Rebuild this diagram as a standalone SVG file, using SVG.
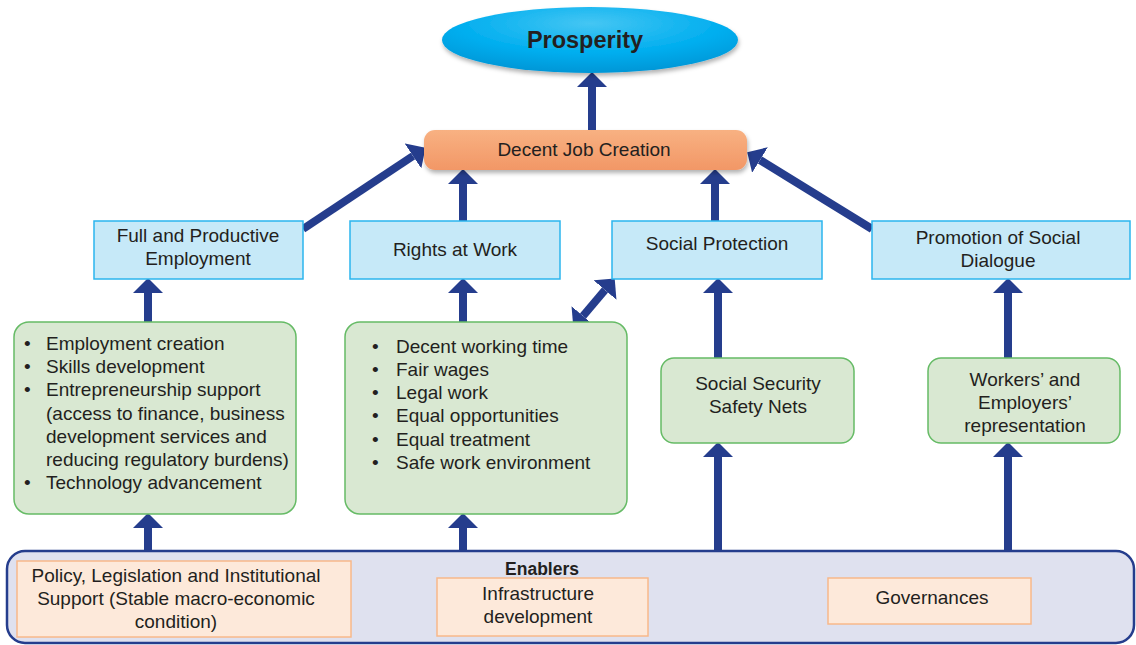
<svg xmlns="http://www.w3.org/2000/svg" width="1136" height="645" viewBox="0 0 1136 645">
  <style>
    text { font-family: "Liberation Sans", Arial, sans-serif; fill: #231f20; }
    .t { font-size: 19px; text-anchor: middle; }
    .l { font-size: 19px; }
    .goal { fill: #c6e9f8; stroke: #2bb5ee; stroke-width: 1.5; }
    .item { fill: #d9e8d2; stroke: #66bb66; stroke-width: 1.5; }
    .enab { fill: #fde9da; stroke: #f8b88a; stroke-width: 1.5; }
    .arr { stroke: #253d8d; stroke-width: 8; fill: none; }
  </style>
  <defs>
    <radialGradient id="gProsperity" cx="0.5" cy="0.25" r="0.75">
      <stop offset="0" stop-color="#45c6f3"/>
      <stop offset="0.6" stop-color="#00aeef"/>
      <stop offset="1" stop-color="#0096d6"/>
    </radialGradient>
    <linearGradient id="gDecent" x1="0" y1="0" x2="0" y2="1">
      <stop offset="0" stop-color="#f8b182"/>
      <stop offset="1" stop-color="#f29766"/>
    </linearGradient>
    <filter id="shadow" x="-10%" y="-20%" width="120%" height="150%">
      <feDropShadow dx="1" dy="3" stdDeviation="2" flood-color="#000" flood-opacity="0.3"/>
    </filter>
    <marker id="head" markerUnits="userSpaceOnUse" markerWidth="15" markerHeight="30" refX="0" refY="15" orient="auto-start-reverse" viewBox="0 0 15 30">
      <path d="M0,0 L15,15 L0,30 z" fill="#253d8d"/>
    </marker>
  </defs>

  <!-- connectors -->
  <g id="connectors">
    <!-- enablers up to the item boxes -->
    <line class="arr" x1="148" y1="552" x2="148" y2="528" marker-end="url(#head)"/>
    <line class="arr" x1="463" y1="552" x2="463" y2="528" marker-end="url(#head)"/>
    <line class="arr" x1="718" y1="552" x2="718" y2="457" marker-end="url(#head)"/>
    <line class="arr" x1="1008" y1="552" x2="1008" y2="457" marker-end="url(#head)"/>
    <!-- item boxes up to the goals -->
    <line class="arr" x1="148" y1="322" x2="148" y2="293" marker-end="url(#head)"/>
    <line class="arr" x1="463" y1="322" x2="463" y2="293" marker-end="url(#head)"/>
    <line class="arr" x1="718" y1="358" x2="718" y2="293" marker-end="url(#head)"/>
    <line class="arr" x1="1008" y1="358" x2="1008" y2="293" marker-end="url(#head)"/>
    <!-- goals up to decent job creation -->
    <line class="arr" x1="463" y1="221" x2="463" y2="184" marker-end="url(#head)"/>
    <line class="arr" x1="715" y1="221" x2="715" y2="184" marker-end="url(#head)"/>
    <line class="arr" x1="303" y1="229" x2="413" y2="156" marker-end="url(#head)"/>
    <line class="arr" x1="872" y1="229" x2="760" y2="160" marker-end="url(#head)"/>
    <!-- decent job creation up to prosperity -->
    <line class="arr" x1="592" y1="130" x2="592" y2="87" marker-end="url(#head)"/>
    <!-- two-way link between rights at work and social protection -->
    <line class="arr" x1="583" y1="316" x2="605" y2="290" marker-start="url(#head)" marker-end="url(#head)"/>
  </g>

  <!-- top outcome -->
  <g id="prosperity">
    <ellipse cx="590" cy="40" rx="148" ry="33" fill="url(#gProsperity)" filter="url(#shadow)"/>
    <text x="585" y="48" font-size="23.5" font-weight="bold" text-anchor="middle">Prosperity</text>
  </g>

  <g id="decent-job-creation">
    <rect x="424" y="130" width="323" height="40" rx="11" fill="url(#gDecent)" filter="url(#shadow)"/>
    <text class="t" x="584" y="156">Decent Job Creation</text>
  </g>

  <!-- four goals -->
  <g id="full-employment">
    <rect class="goal" x="94" y="221" width="209" height="58"/>
    <text class="t" x="198" y="242">Full and Productive</text>
    <text class="t" x="198" y="265">Employment</text>
  </g>
  <g id="rights-at-work">
    <rect class="goal" x="350" y="221" width="210" height="58"/>
    <text class="t" x="455" y="256">Rights at Work</text>
  </g>
  <g id="social-protection">
    <rect class="goal" x="612" y="221" width="210" height="58"/>
    <text class="t" x="717" y="250">Social Protection</text>
  </g>
  <g id="social-dialogue">
    <rect class="goal" x="872" y="221" width="258" height="58"/>
    <text class="t" x="998" y="244">Promotion of Social</text>
    <text class="t" x="998" y="267">Dialogue</text>
  </g>

  <!-- supporting items -->
  <g id="employment-items">
    <rect class="item" x="14" y="322" width="282" height="192" rx="15"/>
    <g font-size="19">
      <text x="24" y="350">•</text>
      <text x="24" y="373">•</text>
      <text x="24" y="396">•</text>
      <text x="24" y="489">•</text>
    </g>
    <text class="l" x="46" y="350">Employment creation</text>
    <text class="l" x="46" y="373">Skills development</text>
    <text class="l" x="46" y="396">Entrepreneurship support</text>
    <text class="l" x="46" y="420">(access to finance, business</text>
    <text class="l" x="46" y="443">development services and</text>
    <text class="l" x="46" y="466">reducing regulatory burdens)</text>
    <text class="l" x="46" y="489">Technology advancement</text>
  </g>
  <g id="rights-items">
    <rect class="item" x="345" y="322" width="282" height="192" rx="15"/>
    <g font-size="19">
      <text x="372" y="353">•</text>
      <text x="372" y="376">•</text>
      <text x="372" y="399">•</text>
      <text x="372" y="422">•</text>
      <text x="372" y="446">•</text>
      <text x="372" y="469">•</text>
    </g>
    <text class="l" x="396" y="353">Decent working time</text>
    <text class="l" x="396" y="376">Fair wages</text>
    <text class="l" x="396" y="399">Legal work</text>
    <text class="l" x="396" y="422">Equal opportunities</text>
    <text class="l" x="396" y="446">Equal treatment</text>
    <text class="l" x="396" y="469">Safe work environment</text>
  </g>
  <g id="social-security">
    <rect class="item" x="661" y="358" width="193" height="85" rx="13"/>
    <text class="t" x="758" y="390">Social Security</text>
    <text class="t" x="758" y="413">Safety Nets</text>
  </g>
  <g id="representation">
    <rect class="item" x="928" y="358" width="192" height="85" rx="13"/>
    <text class="t" x="1025" y="386">Workers’ and</text>
    <text class="t" x="1025" y="409">Employers’</text>
    <text class="t" x="1025" y="432">representation</text>
  </g>

  <!-- enablers band -->
  <g id="enablers">
    <rect x="7" y="551" width="1127" height="92" rx="18" fill="#dfe1ef" stroke="#253d8d" stroke-width="2.5"/>
    <text x="542" y="575" font-size="17.5" font-weight="bold" text-anchor="middle">Enablers</text>
  </g>
  <g id="policy">
    <rect class="enab" x="17" y="561" width="334" height="76"/>
    <text class="t" x="176" y="582">Policy, Legislation and Institutional</text>
    <text class="t" x="176" y="605">Support (Stable macro-economic</text>
    <text class="t" x="176" y="628">condition)</text>
  </g>
  <g id="infrastructure">
    <rect class="enab" x="437" y="578" width="211" height="58"/>
    <text class="t" x="538" y="600">Infrastructure</text>
    <text class="t" x="538" y="623">development</text>
  </g>
  <g id="governances">
    <rect class="enab" x="828" y="578" width="203" height="46"/>
    <text class="t" x="932" y="604">Governances</text>
  </g>
</svg>
